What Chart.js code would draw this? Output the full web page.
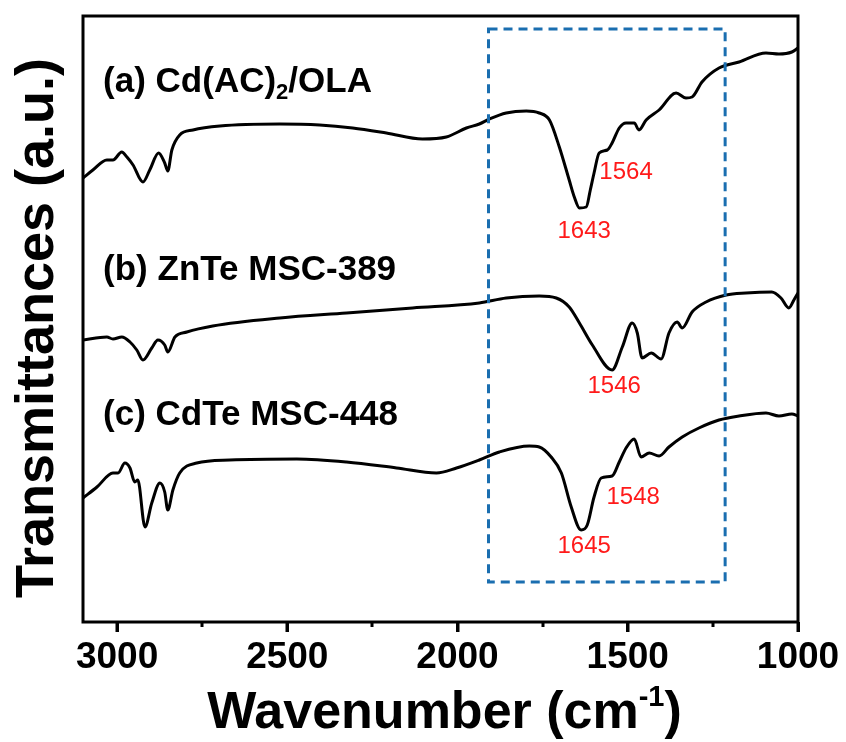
<!DOCTYPE html>
<html>
<head>
<meta charset="utf-8">
<title>FTIR spectra</title>
<script src="https://cdn.jsdelivr.net/npm/chart.js@4.4.1/dist/chart.umd.min.js"></script>
<style>
  html, body { margin: 0; padding: 0; background: #fff; }
  #wrap { width: 846px; height: 742px; }
</style>
</head>
<body>
<div id="wrap"><canvas id="ftirChart" width="846" height="742"></canvas></div>
<script>
// wavenumbers (cm-1) and offset transmittance (a.u.)
const wnA = [3100,3071,3030,3012,2986,2971,2953,2924,2904,2878,2860,2851,2839,2816,2777,2698,2522,2405,2308,2209,2103,2033,1974,1936,1906,1857,1798,1760,1730,1701,1672,1657,1642,1622,1610,1599,1584,1560,1546,1525,1505,1481,1467,1446,1408,1358,1329,1311,1282,1232,1173,1094,1056,1018,1000];
const trA = [444,452,462,462,470,465,457,440,452,469,459,451,472,487,492,496,498,497,494,489,483,485,494,498,503,509,511,509,502,475,442,425,414,415,432,449,469,472,479,494,499,499,492,502,512,529,524,525,540,554,560,569,568,570,574];

const wnB = [3100,3030,3012,2986,2962,2942,2924,2898,2880,2860,2851,2830,2795,2719,2522,2326,2132,1936,1857,1760,1710,1672,1642,1604,1546,1516,1487,1472,1458,1431,1402,1379,1355,1340,1311,1270,1211,1153,1077,1050,1027,1012,1000];
const trB = [282,285,283,285,280,272,262,274,282,277,270,285,290,296,304,309,314,319,324,326,324,315,299,277,252,275,299,289,264,269,263,289,300,294,310,320,327,329,330,324,314,322,329];

const wnC = [3100,3059,3012,2997,2977,2962,2948,2939,2918,2898,2874,2860,2851,2836,2816,2766,2669,2472,2326,2179,2062,2003,1936,1877,1789,1760,1725,1695,1666,1637,1619,1599,1578,1546,1525,1505,1481,1461,1437,1408,1379,1340,1291,1232,1173,1094,1056,1018,1000];
const trC = [124,135,149,149,159,154,140,142,95,119,139,130,112,132,149,159,162,163,160,154,149,154,162,170,176,175,165,149,115,92,97,125,144,146,160,174,183,165,169,166,175,185,194,202,206,209,206,208,206];

const xTicks = [3000, 2500, 2000, 1500, 1000];
const xMinorTicks = [2750, 2250, 1750, 1250];

// sample names: [before subscript, subscript, after subscript]
const sampleNames = [['(a) Cd(AC)', '2', '/OLA'], ['(b) ZnTe MSC-389', '', ''], ['(c) CdTe MSC-448', '', '']];
const sampleNameX = [3041, 3041, 3041];
const sampleNameY = [540, 352, 207];

const peakLabels = ['1564', '1643', '1546', '1548', '1645'];
const peakLabelX = [1505, 1628, 1540, 1484, 1628];
const peakLabelY = [450, 391, 236, 125, 76];

// highlighted region (dashed box)
const boxX = [1909, 1214];
const boxY = [593, 40];

const FONT = "'Liberation Sans', Arial, Helvetica, sans-serif";

function toPoints(xs, ys) {
  return xs.map((v, i) => ({ x: v, y: ys[i] }));
}

const overlay = {
  id: 'overlay',
  afterDatasetsDraw(chart) {
    const { ctx, chartArea: a, scales: { x, y } } = chart;
    ctx.save();

    // dashed box
    ctx.strokeStyle = '#1a6eb0';
    ctx.lineWidth = 3;
    ctx.setLineDash([9, 6]);
    const bx0 = x.getPixelForValue(boxX[0]), bx1 = x.getPixelForValue(boxX[1]);
    const by0 = y.getPixelForValue(boxY[0]), by1 = y.getPixelForValue(boxY[1]);
    ctx.strokeRect(bx0, by0, bx1 - bx0, by1 - by0);
    ctx.setLineDash([]);

    // frame
    ctx.strokeStyle = '#000';
    ctx.lineWidth = 3;
    ctx.strokeRect(a.left, a.top, a.right - a.left, a.bottom - a.top);

    // major and minor ticks
    ctx.beginPath();
    xTicks.forEach(v => {
      const px = Math.round(x.getPixelForValue(v));
      ctx.moveTo(px, a.bottom);
      ctx.lineTo(px, a.bottom + 10);
    });
    xMinorTicks.forEach(v => {
      const px = Math.round(x.getPixelForValue(v));
      ctx.moveTo(px, a.bottom);
      ctx.lineTo(px, a.bottom + 5);
    });
    ctx.stroke();

    // sample names
    ctx.fillStyle = '#000';
    ctx.textBaseline = 'middle';
    ctx.textAlign = 'left';
    sampleNames.forEach((parts, i) => {
      let px = x.getPixelForValue(sampleNameX[i]);
      const py = y.getPixelForValue(sampleNameY[i]);
      ctx.font = 'bold 35px ' + FONT;
      ctx.fillText(parts[0], px, py);
      px += ctx.measureText(parts[0]).width;
      if (parts[1]) {
        ctx.font = 'bold 22px ' + FONT;
        ctx.fillText(parts[1], px, py + 11);
        px += ctx.measureText(parts[1]).width;
      }
      if (parts[2]) {
        ctx.font = 'bold 35px ' + FONT;
        ctx.fillText(parts[2], px, py);
      }
    });

    // peak labels
    ctx.fillStyle = '#ff1a1a';
    ctx.font = '24px ' + FONT;
    ctx.textAlign = 'center';
    peakLabels.forEach((t, i) => {
      ctx.fillText(t, x.getPixelForValue(peakLabelX[i]), y.getPixelForValue(peakLabelY[i]));
    });

    // y axis title
    ctx.fillStyle = '#000';
    ctx.save();
    ctx.translate(38, (a.top + a.bottom) / 2 + 9);
    ctx.rotate(-Math.PI / 2);
    ctx.font = 'bold 54px ' + FONT;
    ctx.textAlign = 'center';
    ctx.textBaseline = 'middle';
    ctx.fillText('Transmittances (a.u.)', 0, 0);
    ctx.restore();

    // x axis title with superscript
    ctx.textAlign = 'left';
    ctx.textBaseline = 'alphabetic';
    const main = 'Wavenumber (cm', sup = '-1', tail = ')';
    ctx.font = 'bold 52px ' + FONT;
    const wMain = ctx.measureText(main).width, wTail = ctx.measureText(tail).width;
    ctx.font = 'bold 29px ' + FONT;
    const wSup = ctx.measureText(sup).width;
    let tx = (a.left + a.right) / 2 + 4 - (wMain + wSup + wTail) / 2;
    const ty = a.bottom + 106;
    ctx.font = 'bold 52px ' + FONT;
    ctx.fillText(main, tx, ty);
    tx += wMain;
    ctx.font = 'bold 29px ' + FONT;
    ctx.fillText(sup, tx, ty - 22);
    tx += wSup;
    ctx.font = 'bold 52px ' + FONT;
    ctx.fillText(tail, tx, ty);

    ctx.restore();
  }
};

const lineStyle = {
  borderColor: '#000',
  borderWidth: 3,
  pointRadius: 0,
  fill: false,
  cubicInterpolationMode: 'monotone'
};

const ctx = document.getElementById('ftirChart').getContext('2d');
const ftirChart = new Chart(ctx, {
  type: 'line',
  data: {
    datasets: [
      Object.assign({ label: 'Cd(AC)2/OLA', data: toPoints(wnA, trA) }, lineStyle),
      Object.assign({ label: 'ZnTe MSC-389', data: toPoints(wnB, trB) }, lineStyle),
      Object.assign({ label: 'CdTe MSC-448', data: toPoints(wnC, trC) }, lineStyle)
    ]
  },
  options: {
    responsive: false,
    animation: false,
    layout: { padding: { top: 16, right: 48, left: 0, bottom: 0 } },
    plugins: {
      legend: { display: false },
      tooltip: { enabled: false }
    },
    scales: {
      x: {
        type: 'linear',
        reverse: true,
        min: 1000,
        max: 3100,
        afterFit: scale => { scale.height = 120; },
        afterBuildTicks: scale => { scale.ticks = xTicks.map(v => ({ value: v })); },
        border: { display: false },
        grid: {
          drawOnChartArea: false,
          drawTicks: true,
          tickLength: 10,
          tickWidth: 3,
          tickColor: '#000'
        },
        ticks: {
          autoSkip: false,
          maxRotation: 0,
          padding: 4,
          color: '#000',
          font: { family: FONT, size: 37, weight: 'bold' },
          callback: v => String(v)
        }
      },
      y: {
        min: 0,
        max: 606,
        afterFit: scale => { scale.width = 83; },
        border: { display: false },
        grid: { display: false },
        ticks: { display: false },
        title: { display: false }
      }
    }
  },
  plugins: [overlay]
});
</script>
</body>
</html>
